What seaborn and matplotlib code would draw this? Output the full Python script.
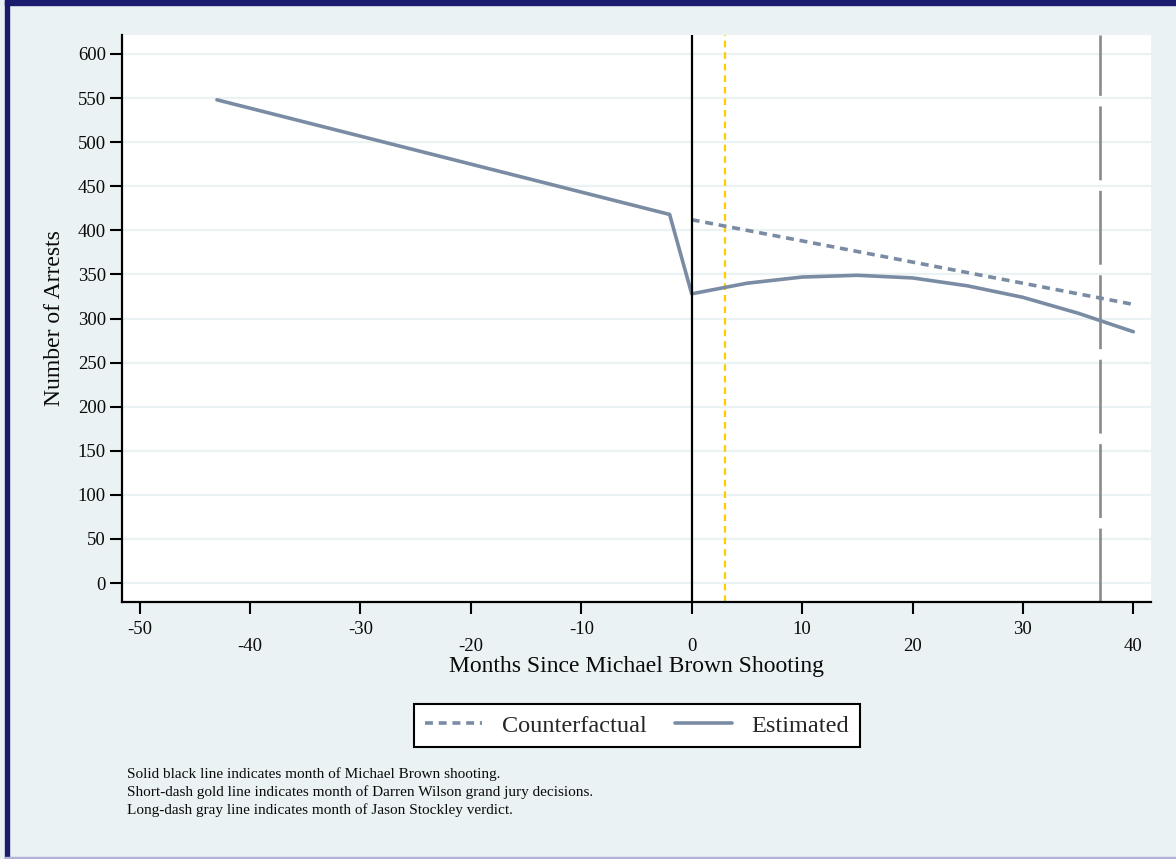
import matplotlib
matplotlib.use("Agg")
import matplotlib.pyplot as plt
import seaborn as sns
import pandas as pd
from matplotlib.patches import Rectangle
from matplotlib.lines import Line2D

# ---- data ----
est_months = [-43, -2, 0, 5, 10, 15, 20, 25, 30, 35, 40]
est_arrests = [548, 418, 328, 340, 347, 349, 346, 337, 324, 306, 285]
cf_months = [0, 40]
cf_arrests = [412, 316]
brown_month = 0
wilson_month = 3
stockley_month = 37
x_ticks = [-50, -40, -30, -20, -10, 0, 10, 20, 30, 40]
y_ticks = [0, 50, 100, 150, 200, 250, 300, 350, 400, 450, 500, 550, 600]
notes = ["Solid black line indicates month of Michael Brown shooting.",
         "Short-dash gold line indicates month of Darren Wilson grand jury decisions.",
         "Long-dash gray line indicates month of Jason Stockley verdict."]

BG = "#EAF2F3"
LINE = "#7A8CA3"
GOLD = "#FFCC00"
GRAY = "#8A8A8A"

sns.set_theme(style="white")
plt.rcParams["font.family"] = ["Liberation Serif", "DejaVu Serif"]

W, H = 1176, 859
fig = plt.figure(figsize=(W / 100, H / 100), dpi=100, facecolor=BG)
ax = fig.add_axes([122 / W, 1 - 602 / H, (1151 - 122) / W, (602 - 35) / H])
ax.set_facecolor("white")

# grid lines
for yv in y_ticks:
    ax.axhline(yv, color=BG, lw=1.6, zorder=0.5)

df_est = pd.DataFrame({"month": est_months, "arrests": est_arrests})
df_cf = pd.DataFrame({"month": cf_months, "arrests": cf_arrests})

sns.lineplot(data=df_cf, x="month", y="arrests", ax=ax, color=LINE, lw=2.6, zorder=3)
ax.lines[-1].set_dashes((2.2, 1.6))
sns.lineplot(data=df_est, x="month", y="arrests", ax=ax, color=LINE, lw=2.6, zorder=3)

ax.axvline(brown_month, color="black", lw=1.6, zorder=4)
v = ax.axvline(wilson_month, color=GOLD, lw=1.6, zorder=2)
v.set_dashes((3.0, 2.2))
v = ax.axvline(stockley_month, color=GRAY, lw=1.9, zorder=2)
v.set_dashes((28, 4))

ax.set_xlim(-51.6, 41.6)
ax.set_ylim(-21.5, 621.5)
ax.set_xticks(x_ticks)
ax.set_xticklabels([str(t) for t in x_ticks])
ax.set_yticks(y_ticks)
ax.set_yticklabels([str(t) for t in y_ticks])

for s in ["top", "right"]:
    ax.spines[s].set_visible(False)
for s in ["left", "bottom"]:
    ax.spines[s].set_color("black")
    ax.spines[s].set_linewidth(1.6)

ax.tick_params(axis="both", which="major", direction="out", length=8.5, width=1.5,
               color="black", labelsize=13.5, labelcolor="#0a0a0a", left=True, bottom=True)
ax.tick_params(axis="y", pad=3)
for i, tk in enumerate(ax.xaxis.get_major_ticks()):
    tk.set_pad(5 if x_ticks[i] % 20 != 0 else 17.5)

ax.set_xlabel("Months Since Michael Brown Shooting", fontsize=17, color="#0a0a0a")
ax.set_ylabel("Number of Arrests", fontsize=17, color="#0a0a0a")
ax.xaxis.set_label_coords(0.5, -0.095)
ax.yaxis.set_label_coords(-0.055, 0.5)

handles = [Line2D([0], [0], color=LINE, lw=2.6, dashes=(2.2, 1.6)),
           Line2D([0], [0], color=LINE, lw=2.6)]
leg = fig.legend(handles, ["Counterfactual", "Estimated"], loc="center",
                 bbox_to_anchor=(637 / W, 1 - 725.5 / H), ncol=2, frameon=True,
                 fancybox=False, edgecolor="black", facecolor="white", framealpha=1,
                 fontsize=17.5, handlelength=2.35, handletextpad=0.8,
                 columnspacing=1.15, borderpad=0.45)
leg.get_frame().set_linewidth(1.5)

fig.text(127 / W, 1 - 767 / H, "\n".join(notes), fontsize=11, va="top", ha="left",
         color="#0a0a0a", linespacing=1.38)

# outer border
fig.patches.append(Rectangle((5 / W, 1 - 5 / H), 1, 5 / H, transform=fig.transFigure,
                             color="#1C1C6E", zorder=10))
fig.patches.append(Rectangle((5 / W, 0), 4 / W, 1, transform=fig.transFigure,
                             color="#1C1C6E", zorder=10))
fig.patches.append(Rectangle((5 / W, 0), 1, 2 / H, transform=fig.transFigure,
                             color="#B0B0D8", zorder=10))

fig.savefig("out.png", dpi=100, facecolor=BG)
